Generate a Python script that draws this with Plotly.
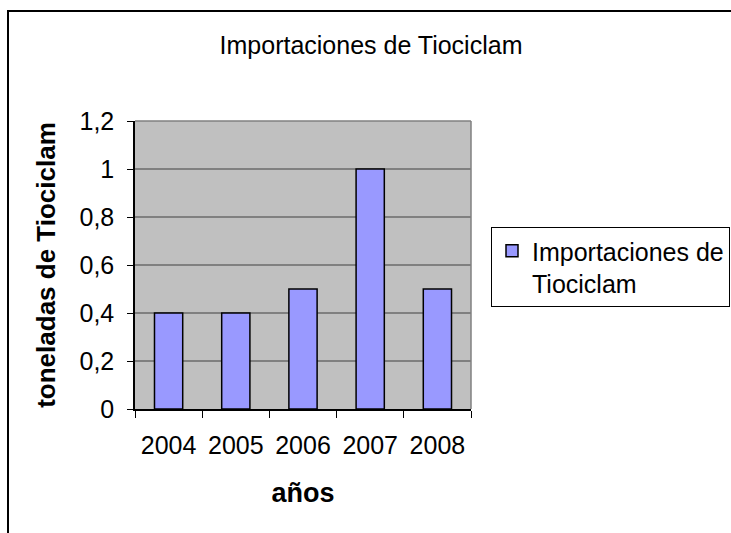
import plotly.graph_objects as go

years = ["2004", "2005", "2006", "2007", "2008"]
toneladas = [0.4, 0.4, 0.5, 1.0, 0.5]
series_name = "Importaciones de<br>Tiociclam"
title_text = "Importaciones de Tiociclam"
y_title = "toneladas de Tiociclam"
x_title = "años"

W, H = 731, 533
L, R, T, B = 135, 471, 121, 409
pw, ph = R - L, B - T

def px(x):
    return (x - L) / pw

def py(y):
    return (B - y) / ph

FONT = "Liberation Sans, Arial, sans-serif"

fig = go.Figure()
fig.add_trace(go.Bar(
    x=years, y=toneladas, name=series_name,
    marker=dict(color="#9999FF", line=dict(color="black", width=1.5)),
    showlegend=True,
))

shapes = [
    dict(type="line", xref="paper", yref="paper", x0=0, x1=1, y0=1, y1=1,
         line=dict(color="#808080", width=1.5)),
    dict(type="line", xref="paper", yref="paper", x0=1, x1=1, y0=0, y1=1,
         line=dict(color="#808080", width=1.5)),
    dict(type="line", xref="paper", yref="paper", x0=px(8), x1=px(8), y0=py(10), y1=py(560),
         line=dict(color="black", width=2)),
    dict(type="line", xref="paper", yref="paper", x0=px(7), x1=px(760), y0=py(11), y1=py(11),
         line=dict(color="black", width=2)),
]

fig.update_layout(
    width=W, height=H,
    margin=dict(l=L, r=W - R, t=T, b=H - B, pad=0, autoexpand=False),
    paper_bgcolor="white",
    plot_bgcolor="#C0C0C0",
    separators=",.",
    font=dict(family=FONT, size=25, color="black"),
    title=dict(text=title_text, x=px(371), xanchor="center", xref="paper",
               y=1 - 45 / H, yanchor="middle", font=dict(size=25, family=FONT)),
    bargap=0.58,
    shapes=shapes,
    showlegend=True,
    legend=dict(
        x=px(491), y=py(227), xanchor="left", yanchor="top",
        bordercolor="black", borderwidth=1, bgcolor="white",
        font=dict(size=25, family=FONT), valign="top",
        itemwidth=30,
    ),
    xaxis=dict(
        type="category", showline=True, linecolor="black", linewidth=1.5,
        ticks="outside", ticklen=7, tickcolor="black", tickwidth=1,
        tickson="boundaries", showgrid=False, automargin=False,
        tickfont=dict(size=25), ticklabelstandoff=13,
        title=dict(text=x_title, font=dict(size=27, family=FONT, weight="bold"), standoff=25),
    ),
    yaxis=dict(
        range=[0, 1.2], dtick=0.2, showline=True, linecolor="black", linewidth=1.5,
        ticks="outside", ticklen=6, tickcolor="black", tickwidth=1,
        showgrid=True, gridcolor="#808080", gridwidth=1.5, zeroline=False, automargin=False,
        tickfont=dict(size=25), ticklabelstandoff=8,
        title=dict(text=y_title, font=dict(size=26, family=FONT, weight="bold"), standoff=16),
    ),
)

fig.write_html(
    "out.html",
    config={"displayModeBar": False},
    post_script="document.body.style.margin='0';document.body.style.overflow='hidden';",
)
